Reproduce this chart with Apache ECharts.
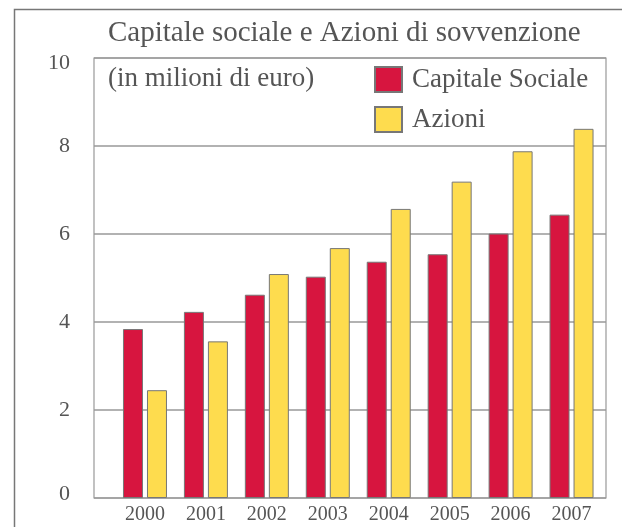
<!DOCTYPE html>
<html>
<head>
<meta charset="utf-8">
<script src="https://cdn.jsdelivr.net/npm/echarts@6/dist/echarts.min.js"></script>
<style>
html,body{margin:0;padding:0;background:#fff;}
#chart{width:622px;height:527px;}
</style>
</head>
<body>
<div id="chart"></div>
<script>
const years = ['2000','2001','2002','2003','2004','2005','2006','2007'];
const capitaleSociale = [3.84, 4.23, 4.62, 5.03, 5.37, 5.54, 6.01, 6.44];
const azioni = [2.45, 3.56, 5.09, 5.68, 6.57, 7.19, 7.88, 8.39];
const yTicks = [0, 2, 4, 6, 8, 10];

const FONT = 'Liberation Serif';
const TXT = '#555';
const chart = echarts.init(document.getElementById('chart'), null, {renderer: 'canvas'});
chart.setOption({
  animation: false,
  backgroundColor: '#fff',
  title: [
    {text: 'Capitale sociale e Azioni di sovvenzione', left: 108, top: 19, padding: 0,
     textStyle: {fontFamily: FONT, fontSize: 29, fontWeight: 'normal', color: TXT}},
    {text: '(in milioni di euro)', left: 108, top: 65, padding: 0,
     textStyle: {fontFamily: FONT, fontSize: 27, fontWeight: 'normal', color: TXT}}
  ],
  legend: {
    orient: 'vertical', left: 374, top: 66, itemWidth: 27, itemHeight: 25, itemGap: 13,
    padding: 0, icon: 'rect',
    textStyle: {fontFamily: FONT, fontSize: 27, color: TXT, padding: [0, 0, 0, 5]},
    data: ['Capitale Sociale', 'Azioni']
  },
  graphic: [
    {type: 'polyline', shape: {points: [[14.5, 527], [14.5, 9.5], [622, 9.5]]},
     style: {stroke: '#777', lineWidth: 1.5, fill: null}, silent: true}
  ],
  grid: [
    {left: 94, right: 16, top: 58, bottom: 29, show: true, borderColor: '#999', borderWidth: 1.2, containLabel: false},
    {left: 114.5, right: 20, top: 58, bottom: 29, containLabel: false}
  ],
  xAxis: [
    {type: 'value', gridIndex: 0, min: 0, max: 1, show: false},
    {type: 'category', gridIndex: 1, data: years,
     axisLine: {show: false}, axisTick: {show: false},
     axisLabel: {fontFamily: FONT, fontSize: 20, color: TXT, margin: 7}}
  ],
  yAxis: [
    {type: 'value', gridIndex: 0, min: 0, max: 10, interval: 2,
     axisLine: {show: false}, axisTick: {show: false},
     axisLabel: {fontFamily: FONT, fontSize: 22, color: TXT, margin: 24,
       formatter: v => {
         if (!yTicks.includes(v)) return '';
         if (v === 10) return '{top|' + v + '}';
         if (v === 0) return '{bot|' + v + '}';
         return String(v);
       },
       rich: {
         top: {fontFamily: FONT, fontSize: 22, color: TXT, padding: [11, 0, 0, 0]},
         bot: {fontFamily: FONT, fontSize: 22, color: TXT, padding: [0, 0, 7, 0]}
       }},
     splitLine: {show: true, lineStyle: {color: '#999', width: 1.5}}},
    {type: 'value', gridIndex: 1, min: 0, max: 10, interval: 2, show: false, splitLine: {show: false}}
  ],
  series: [
    {name: 'Capitale Sociale', type: 'bar', xAxisIndex: 1, yAxisIndex: 1, data: capitaleSociale,
     barWidth: 20, barGap: '20%',
     itemStyle: {color: '#D7153F', borderColor: '#777', borderWidth: 1}},
    {name: 'Azioni', type: 'bar', xAxisIndex: 1, yAxisIndex: 1, data: azioni,
     barWidth: 20, barGap: '20%',
     itemStyle: {color: '#FEDC4E', borderColor: '#777', borderWidth: 1}}
  ]
});
</script>
</body>
</html>
